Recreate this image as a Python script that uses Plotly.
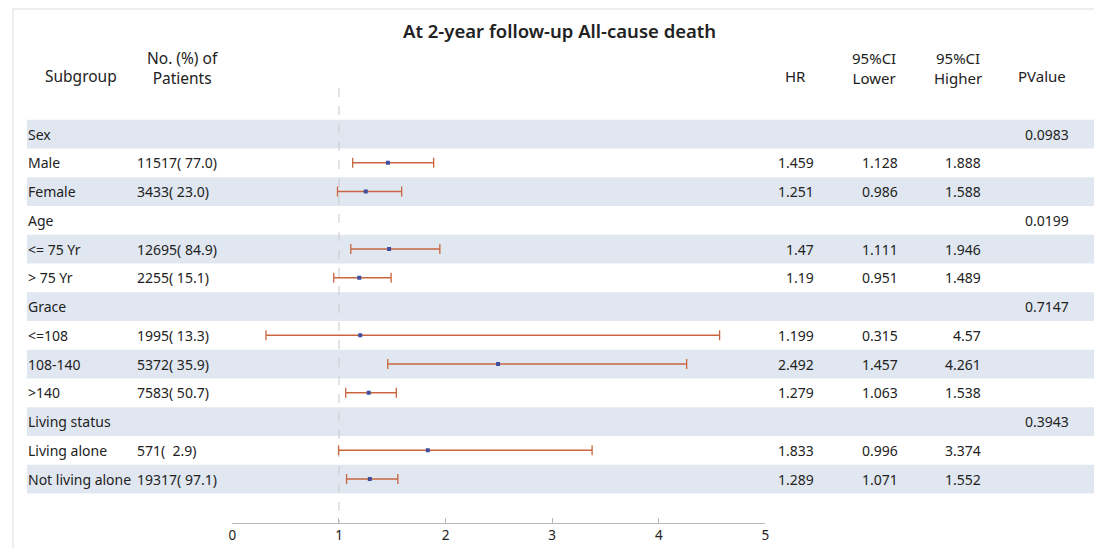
import plotly.graph_objects as go

title = "At 2-year follow-up All-cause death"
subgroups = ["Sex", "Male", "Female", "Age", "<= 75 Yr", "> 75 Yr", "Grace", "<=108",
             "108-140", ">140", "Living status", "Living alone", "Not living alone"]
n_pct = ["", "11517( 77.0)", "3433( 23.0)", "", "12695( 84.9)", "2255( 15.1)", "",
         "1995( 13.3)", "5372( 35.9)", "7583( 50.7)", "", "571(  2.9)", "19317( 97.1)"]
hr = [None, 1.459, 1.251, None, 1.47, 1.19, None, 1.199, 2.492, 1.279, None, 1.833, 1.289]
ci_lower = [None, 1.128, 0.986, None, 1.111, 0.951, None, 0.315, 1.457, 1.063, None, 0.996, 1.071]
ci_higher = [None, 1.888, 1.588, None, 1.946, 1.489, None, 4.57, 4.261, 1.538, None, 3.374, 1.552]
pvalue = ["0.0983", "", "", "0.0199", "", "", "0.7147", "", "", "", "0.3943", "", ""]
shaded_rows = [0, 2, 4, 6, 8, 10, 12]
x_ticks = [0, 1, 2, 3, 4, 5]

OFF = 8  # browser body margin
W, H = 1102 - OFF, 556 - 2 * OFF
ROW0, ROWH = 134, 28.75
def py(p):  # page pixel y -> row units
    return (p - ROW0) / ROWH
def px(p):  # page pixel x -> paper
    return (p - OFF) / W
def pyp(p):  # page pixel y -> paper
    return 1 - (p - OFF) / H

FONT = "Noto Sans, Open Sans, sans-serif"
TXT = "#222222"
fig = go.Figure()

rows = list(range(len(subgroups)))
idx = [i for i in rows if hr[i] is not None]
fig.add_trace(go.Scatter(
    x=[hr[i] for i in idx], y=idx, mode="markers",
    marker=dict(symbol="square", size=4, color="#3f4fa0"),
    error_x=dict(type="data", symmetric=False,
                 array=[ci_higher[i] - hr[i] for i in idx],
                 arrayminus=[hr[i] - ci_lower[i] for i in idx],
                 color="#c9653f", thickness=1.3, width=5),
    showlegend=False, hoverinfo="skip"))

shapes = []
for i in shaded_rows:
    shapes.append(dict(type="rect", xref="paper", yref="y", x0=px(23), x1=1,
                       y0=i - 0.5, y1=i + 0.5, fillcolor="#e1e7f0", line_width=0, layer="below"))
shapes.append(dict(type="line", xref="x", yref="y", x0=1, x1=1, y0=py(88), y1=py(523),
                   line=dict(color="#c8c8c8", width=1, dash="dash"), layer="below"))
shapes.append(dict(type="line", xref="paper", yref="paper", x0=px(9), x1=1, y0=pyp(9), y1=pyp(9),
                   line=dict(color="#dddddd", width=1)))
shapes.append(dict(type="line", xref="paper", yref="paper", x0=px(9), x1=px(9), y0=pyp(9), y1=0,
                   line=dict(color="#dddddd", width=1)))

ann = []
def add(text, x, y, anchor="left", size=14, **kw):
    ann.append(dict(text=text, x=x, y=y, xref="paper", yref="y", xanchor=anchor, yanchor="middle",
                    showarrow=False, font=dict(family=FONT, size=size, color=TXT), **kw))

add("<span style='font-weight:600'>" + title + "</span>", px(560), py(30), anchor="center", size=18.5)
add("Subgroup", px(78), py(76), anchor="center", size=15.5)
add("No. (%) of<br>Patients", px(180), py(68), anchor="center", align="center", size=15.5)
add("HR", px(797), py(76), anchor="center", size=15)
add("95%CI<br>Lower", px(876), py(68), anchor="center", align="center", size=15)
add("95%CI<br>Higher", px(961), py(68), anchor="center", align="center", size=15)
add("PValue", px(1046), py(76), anchor="center", size=15)

for i in rows:
    add(subgroups[i], px(22), i)
    if n_pct[i]:
        add(n_pct[i].replace("  ", "&nbsp;&nbsp;"), px(132), i)
    if hr[i] is not None:
        add(f"{hr[i]:g}", px(818), i, anchor="right")
        add(f"{ci_lower[i]:g}", px(903), i, anchor="right")
        add(f"{ci_higher[i]:g}", px(986), i, anchor="right")
    if pvalue[i]:
        add(pvalue[i], px(1075), i, anchor="right")

fig.update_layout(
    width=W, height=H, margin=dict(l=0, r=0, t=0, b=0),
    paper_bgcolor="white", plot_bgcolor="rgba(0,0,0,0)",
    shapes=shapes, annotations=ann,
    xaxis=dict(domain=[px(230), px(767)], range=[0, 5], tickvals=x_ticks,
               anchor="free", position=pyp(523), showgrid=False, zeroline=False,
               showline=True, linecolor="#b8b8b8", linewidth=1,
               ticks="inside", ticklen=5, tickcolor="#b8b8b8",
               tickfont=dict(family=FONT, size=13.5, color=TXT)),
    yaxis=dict(domain=[0, 1], range=[py(H + OFF), py(OFF)], visible=False,
               showgrid=False, zeroline=False),
)

fig.write_html("out.html")
